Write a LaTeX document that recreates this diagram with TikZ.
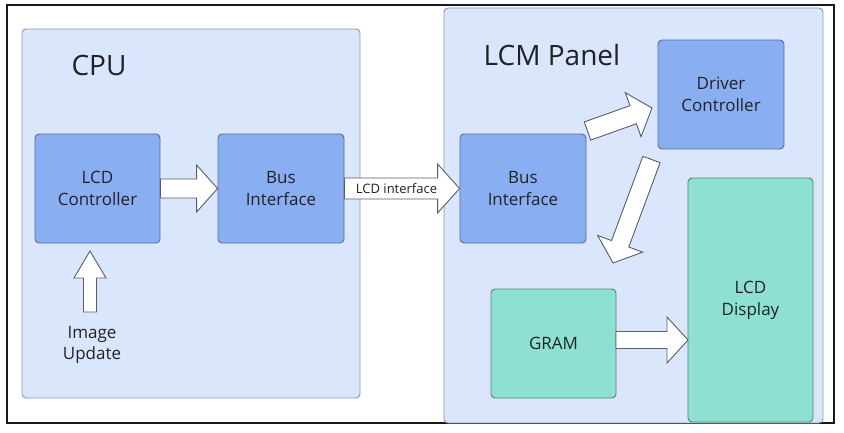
\documentclass[tikz,border=0pt]{standalone}
\usepackage{fontspec}
\setmainfont{Open Sans}
\usetikzlibrary{calc}
\definecolor{panelfill}{RGB}{218,230,251}
\definecolor{paneldraw}{RGB}{140,152,178}
\definecolor{bluefill}{RGB}{137,175,242}
\definecolor{bluedraw}{RGB}{88,108,150}
\definecolor{greenfill}{RGB}{142,224,210}
\definecolor{greendraw}{RGB}{88,128,125}
\definecolor{arrdraw}{RGB}{90,92,104}
\definecolor{txt}{RGB}{34,34,38}
\tikzset{
 panel/.style={rectangle, draw=paneldraw, fill=panelfill, line width=0.9pt, rounded corners=4pt, inner sep=0pt},
 box/.style={rectangle, draw=bluedraw, fill=bluefill, line width=0.9pt, rounded corners=4pt, inner sep=0pt, align=center, text=txt, font=\fontsize{17}{22}\selectfont},
 gbox/.style={box, draw=greendraw, fill=greenfill},
 blockarr/.style={draw=arrdraw, fill=white, line width=0.9pt, line join=miter},
 title/.style={text=txt, font=\fontsize{28}{32}\selectfont, inner sep=0pt},
 label/.style={text=txt, inner sep=0pt, align=center},
 frame/.style={draw=black!90, line width=1.5pt},
}
% #1 tail, #2 tip, #3 half shaft width, #4 half head width, #5 head length
\newcommand\blockarrow[5]{%
  \coordinate (ban) at ($(#2)!#5!(#1)$);
  \draw[blockarr] ($(#1)!#3!90:(#2)$) -- ($(ban)!#3!90:(#2)$) -- ($(ban)!#4!90:(#2)$) -- (#2)
    -- ($(ban)!#4!-90:(#2)$) -- ($(ban)!#3!-90:(#2)$) -- ($(#1)!#3!-90:(#2)$) -- cycle;}
\begin{document}
\begin{tikzpicture}[x=1pt,y=-1pt]
\useasboundingbox (0,0) rectangle (844,432);
\fill[white] (0,0) rectangle (844,432);
\draw[frame] (7,5) rectangle (834,423);
% panels
\node[panel, minimum width=338pt, minimum height=369pt] (cpu) at (191,213.5) {};
\node[panel, minimum width=379pt, minimum height=415pt] (lcm) at (633.5,215.5) {};
\node[title] (cputitle) at (99,65) {CPU};
\node[title] (lcmtitle) at (552,55) {LCM Panel};
% boxes
\node[box, minimum width=125pt, minimum height=109pt] (lcdc) at (97.5,188.5) {LCD\\Controller};
\node[box, minimum width=126pt, minimum height=109pt] (busc) at (281,188.5) {Bus\\Interface};
\node[box, minimum width=126pt, minimum height=109pt] (busl) at (523,188.5) {Bus\\Interface};
\node[box, minimum width=126pt, minimum height=109pt] (drv) at (721,94.5) {Driver\\Controller};
\node[gbox, minimum width=125pt, minimum height=244pt] (disp) at (750.5,300) {LCD\\Display};
\node[gbox, minimum width=125pt, minimum height=109pt] (gram) at (553.5,343.5) {GRAM};
% arrows
\blockarrow{lcdc.east}{busc.west}{9.5pt}{23.5pt}{21pt}
\blockarrow{busc.east}{busl.west}{10.5pt}{24.5pt}{22pt}
\coordinate (iutail) at (90,312);
\coordinate (iutip) at (90,251);
\blockarrow{iutail}{iutip}{6.5pt}{16pt}{27pt}
\coordinate (bdtail) at (587.5,131);
\coordinate (bdtip) at (652,108);
\blockarrow{bdtail}{bdtip}{9.6pt}{23.4pt}{20pt}
\coordinate (dgtail) at (651.5,159.5);
\coordinate (dgtip) at (613,263);
\blockarrow{dgtail}{dgtip}{9.2pt}{24pt}{20.5pt}
\coordinate (gdtail) at (616,340);
\coordinate (gdtip) at (688,340);
\blockarrow{gdtail}{gdtip}{8.5pt}{23pt}{21pt}
% labels
\node[label, font=\fontsize{13}{14}\selectfont] (lcdif) at (396.5,188.5) {LCD interface};
\node[label, font=\fontsize{17}{21}\selectfont] (imgupd) at (92,344.5) {Image\\Update};
\end{tikzpicture}
\end{document}
